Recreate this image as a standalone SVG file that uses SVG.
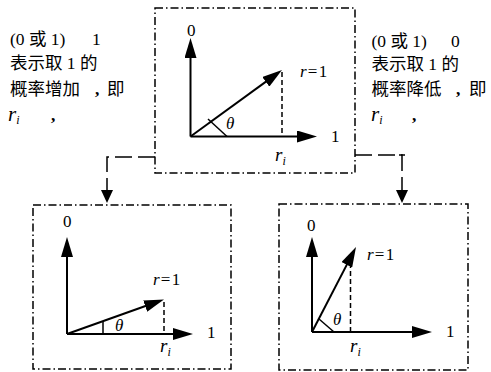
<svg xmlns="http://www.w3.org/2000/svg" width="491" height="372" viewBox="0 0 491 372">
<style>
text{font-family:"Liberation Serif","Noto Sans CJK SC",serif;fill:#000}
.t{font-size:17.5px}
.lab{font-size:17px}
.it{font-style:italic}
.sub{font-size:12px;font-style:italic}
.rb{font-size:21px;font-style:italic}
.rm{font-size:19px;font-style:italic}
.box{fill:none;stroke:#000;stroke-width:1.5;stroke-dasharray:8 3 1.5 3}
.ax{fill:none;stroke:#000;stroke-width:2}
.dsh{fill:none;stroke:#000;stroke-width:1.5;stroke-dasharray:5 3}
.thin{fill:none;stroke:#000;stroke-width:1.5}
.con{fill:none;stroke:#000;stroke-width:1.5;stroke-dasharray:17 6}
</style>
<defs>
<marker id="ah" markerUnits="userSpaceOnUse" markerWidth="20" markerHeight="12" refX="10" refY="6" orient="auto" viewBox="0 0 20 12">
<path d="M0,0 L20,6 L0,12 z" fill="#000"/>
</marker>
<marker id="ch" markerUnits="userSpaceOnUse" markerWidth="13" markerHeight="12" refX="7" refY="6" orient="auto" viewBox="0 0 13 12">
<path d="M0,0 L13,6 L0,12 z" fill="#000"/>
</marker>
</defs>

<g id="text-left">
<text class="t" x="10" y="45">(0 或 1)<tspan x="92">1</tspan></text>
<text class="t" x="10" y="69">表示取 1 的</text>
<text class="t" x="10" y="95">概率增加<tspan x="95" font-weight="bold">,</tspan><tspan x="107">即</tspan></text>
<text class="t" x="8" y="121"><tspan class="rb">r</tspan><tspan class="sub" dy="3">i</tspan><tspan x="51" dy="-3" font-weight="bold">,</tspan></text>
</g>

<g id="text-right">
<text class="t" x="371.5" y="47">(0 或 1)<tspan x="451">0</tspan></text>
<text class="t" x="371.5" y="70">表示取 1 的</text>
<text class="t" x="371.5" y="95">概率降低<tspan x="456" font-weight="bold">,</tspan><tspan x="469">即</tspan></text>
<text class="t" x="371" y="121"><tspan class="rb">r</tspan><tspan class="sub" dy="3">i</tspan><tspan x="412" dy="-3" font-weight="bold">,</tspan></text>
</g>

<g id="node-top">
<rect class="box" x="155" y="8" width="200" height="165"/>
<path class="ax" d="M190.5,136.5 V48" marker-end="url(#ah)"/>
<path class="ax" d="M190.5,136.5 H307" marker-end="url(#ah)"/>
<path class="ax" d="M190.5,136.5 L273.9,75.9" marker-end="url(#ah)"/>
<path class="dsh" d="M282,72 V136"/>
<path class="thin" d="M208,119 L227,136.5"/>
<text class="lab" x="187" y="36">0</text>
<text class="lab" x="331" y="142">1</text>
<text class="lab" x="300" y="77"><tspan class="it">r</tspan><tspan dx="1">=</tspan><tspan dx="1.5">1</tspan></text>
<text class="lab it" x="226" y="129">θ</text>
<text class="lab" x="275" y="161"><tspan class="rm">r</tspan><tspan class="sub" dy="4">i</tspan></text>
</g>

<g id="node-bottom-left">
<rect class="box" x="33" y="205" width="198" height="164"/>
<path class="ax" d="M67,334 V247" marker-end="url(#ah)"/>
<path class="ax" d="M67,334 H183" marker-end="url(#ah)"/>
<path class="ax" d="M67,334 L154.6,302.8" marker-end="url(#ah)"/>
<path class="dsh" d="M164,302 V334"/>
<path class="thin" d="M103,321 V334"/>
<text class="lab" x="63" y="227">0</text>
<text class="lab" x="207" y="338">1</text>
<text class="lab" x="153" y="285"><tspan class="it">r</tspan><tspan dx="1">=</tspan><tspan dx="1.5">1</tspan></text>
<text class="lab it" x="115" y="331">θ</text>
<text class="lab" x="160" y="352"><tspan class="rm">r</tspan><tspan class="sub" dy="4">i</tspan></text>
</g>

<g id="node-bottom-right">
<rect class="box" x="279" y="204" width="189" height="166"/>
<path class="ax" d="M312,332 V247" marker-end="url(#ah)"/>
<path class="ax" d="M312,332 H422" marker-end="url(#ah)"/>
<path class="ax" d="M312,332 L351.4,255.9" marker-end="url(#ah)"/>
<path class="dsh" d="M350.5,263 V332"/>
<path class="thin" d="M319,319 L334,332"/>
<text class="lab" x="307" y="231">0</text>
<text class="lab" x="446" y="337">1</text>
<text class="lab" x="367" y="260"><tspan class="it">r</tspan><tspan dx="1">=</tspan><tspan dx="1.5">1</tspan></text>
<text class="lab it" x="333" y="325">θ</text>
<text class="lab" x="350" y="352"><tspan class="rm">r</tspan><tspan class="sub" dy="4">i</tspan></text>
</g>

<g id="connectors">
<path class="con" d="M155,157 H107 V197" marker-end="url(#ch)"/>
<path class="con" d="M355,155 H402 V197" marker-end="url(#ch)"/>
<path class="thin" d="M399,155 H405"/>
</g>
</svg>
